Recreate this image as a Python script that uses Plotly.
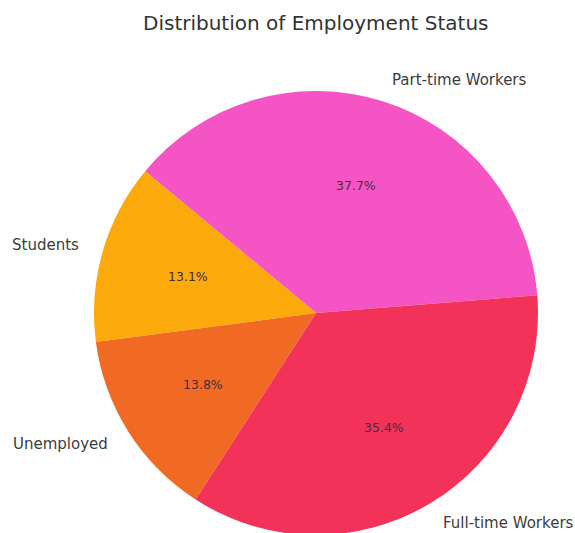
import math
import plotly.graph_objects as go

# Employment status shares (percent), listed counterclockwise from the start angle
categories = ["Part-time Workers", "Students", "Unemployed", "Full-time Workers"]
shares = [37.7, 13.1, 13.8, 35.4]
colors = ["#F555C4", "#FBA90B", "#F06A24", "#F3325A"]

W, H = 575, 545
CX, CY, R = 316, 313, 222          # pie centre and radius in pixels
START_DEG = 4.6                    # first slice begins just above 3 o'clock

total = sum(shares)
first_sweep = 360 * shares[0] / total

# Plotly's counterclockwise pies put the end of the first slice on the
# rotation line, so turn by the first slice's sweep as well.
fig = go.Figure(
    go.Pie(
        labels=categories,
        values=shares,
        sort=False,
        direction="counterclockwise",
        rotation=90 - START_DEG - first_sweep,
        marker=dict(colors=colors, line=dict(width=0)),
        textinfo="none",
        hoverinfo="label+percent",
        showlegend=False,
        domain=dict(
            x=[(CX - R) / W, (CX + R) / W],
            y=[(H - CY - R) / H, (H - CY + R) / H],
        ),
    )
)

# Category names at 1.1 r and percentages at 0.6 r, centred on each slice
annotations = []
angle = START_DEG
for name, val in zip(categories, shares):
    sweep = 360 * val / total
    mid = math.radians(angle + sweep / 2)
    angle += sweep
    c, s = math.cos(mid), math.sin(mid)
    annotations.append(dict(
        x=(CX + 1.1 * R * c) / W, y=(H - CY + 1.1 * R * s) / H,
        xref="paper", yref="paper", text=name, showarrow=False,
        xanchor="left" if c > 0 else "right", yanchor="middle",
        font=dict(family="DejaVu Sans", size=15, color="#3c3c3c"),
    ))
    annotations.append(dict(
        x=(CX + 0.6 * R * c) / W, y=(H - CY + 0.6 * R * s) / H,
        xref="paper", yref="paper", text=f"{100 * val / total:.1f}%",
        showarrow=False, xanchor="center", yanchor="middle",
        font=dict(family="DejaVu Sans", size=12.5, color="#4a2c3a"),
    ))

annotations.append(dict(
    x=CX / W, y=(H - 23) / H, xref="paper", yref="paper",
    text="Distribution of Employment Status", showarrow=False,
    xanchor="center", yanchor="middle",
    font=dict(family="DejaVu Sans", size=20, color="#333333"),
))

fig.update_layout(
    width=W, height=H,
    margin=dict(l=0, r=0, t=0, b=0),
    paper_bgcolor="white",
    plot_bgcolor="white",
    annotations=annotations,
)

fig.write_html(
    "out.html",
    post_script="document.documentElement.style.overflow='hidden';"
                "document.body.style.overflow='hidden';document.body.style.margin='0';",
)
